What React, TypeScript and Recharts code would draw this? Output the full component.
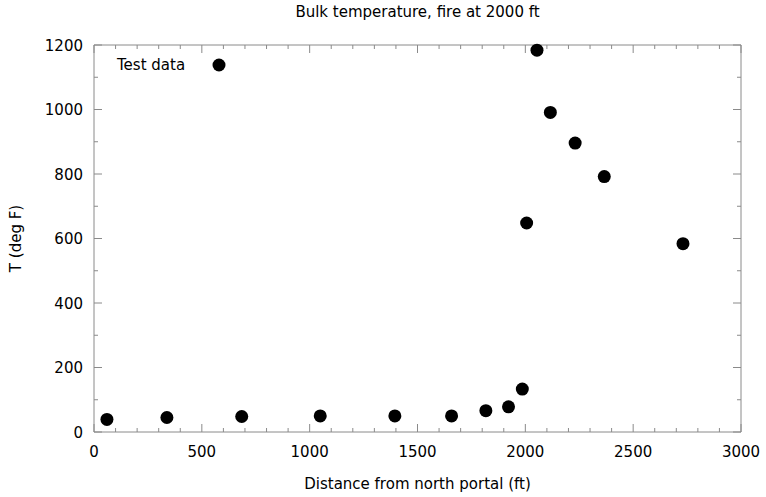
import React from 'react';
import { ScatterChart, Scatter, XAxis, YAxis } from 'recharts';

const distanceFt = [60, 338, 685, 1049, 1395, 1658, 1817, 1922, 1986, 2006, 2054, 2116, 2231, 2366, 2731];
const tempDegF = [39, 45, 48, 50, 50, 50, 66, 78, 133, 648, 1184, 991, 896, 792, 584];

const xMajorTicks = [0, 500, 1000, 1500, 2000, 2500, 3000];
const yMajorTicks = [0, 200, 400, 600, 800, 1000, 1200];
const xMinorStep = 100;
const yMinorStep = 100;

const withMinors = (majors: number[], step: number) => {
  const out: number[] = [];
  for (let i = 0; i < majors.length - 1; i++) {
    for (let v = majors[i]; v < majors[i + 1]; v += step) out.push(v);
  }
  out.push(majors[majors.length - 1]);
  return out;
};

const xTicks = withMinors(xMajorTicks, xMinorStep);
const yTicks = withMinors(yMajorTicks, yMinorStep);

const data = distanceFt.map((d, i) => ({ x: d, y: tempDegF[i] }));

const FONT = '"DejaVu Sans", sans-serif';
const FS = 15;
const AXIS = '#8a8a8a';
const MAJOR = 8;
const MINOR = 4;

const isMajor = (v: number, list: number[]) => list.includes(v);

const BottomTick = (props: any) => {
  const { x, y, payload } = props;
  const major = isMajor(payload.value, xMajorTicks);
  return (
    <g>
      <line x1={x} x2={x} y1={y} y2={y - (major ? MAJOR : MINOR)} stroke={AXIS} />
      {major && (
        <text x={x} y={y + 25} textAnchor="middle" fontSize={FS} fontFamily={FONT} fill="#000">
          {payload.value}
        </text>
      )}
    </g>
  );
};

const TopTick = (props: any) => {
  const { x, y, payload } = props;
  const major = isMajor(payload.value, xMajorTicks);
  return <line x1={x} x2={x} y1={y} y2={y + (major ? MAJOR : MINOR)} stroke={AXIS} />;
};

const LeftTick = (props: any) => {
  const { x, y, payload } = props;
  const major = isMajor(payload.value, yMajorTicks);
  return (
    <g>
      <line x1={x} x2={x + (major ? MAJOR : MINOR)} y1={y} y2={y} stroke={AXIS} />
      {major && (
        <text x={x - 11} y={y + 5.5} textAnchor="end" fontSize={FS} fontFamily={FONT} fill="#000">
          {payload.value}
        </text>
      )}
    </g>
  );
};

const RightTick = (props: any) => {
  const { x, y, payload } = props;
  const major = isMajor(payload.value, yMajorTicks);
  return <line x1={x} x2={x - (major ? MAJOR : MINOR)} y1={y} y2={y} stroke={AXIS} />;
};

const Dot = (props: any) => <circle cx={props.cx} cy={props.cy} r={6.5} fill="#000" />;
const NoDot = () => <g />;

export default function App() {
  return (
    <div style={{ position: 'absolute', left: 0, top: 0, width: 766, height: 497, background: '#fff' }}>
      <div
        style={{
          position: 'absolute',
          left: 94,
          width: 647,
          top: 3,
          textAlign: 'center',
          fontFamily: FONT,
          fontSize: FS,
          color: '#000',
        }}
      >
        Bulk temperature, fire at 2000 ft
      </div>
      <div
        style={{
          position: 'absolute',
          left: 117,
          top: 55,
          display: 'flex',
          alignItems: 'center',
          fontFamily: FONT,
          fontSize: FS,
          color: '#000',
          zIndex: 2,
        }}
      >
        <span>Test data</span>
        <svg width={20} height={20} style={{ marginLeft: 24 }}>
          <circle cx={10} cy={10} r={6.5} fill="#000" />
        </svg>
      </div>
      <ScatterChart width={766} height={497} margin={{ top: 44, right: 24, bottom: 0, left: 0 }}>
        <XAxis
          type="number"
          dataKey="x"
          domain={[0, 3000]}
          ticks={xTicks}
          interval={0}
          tickSize={0}
          tickMargin={0}
          tickLine={false}
          tick={<BottomTick />}
          height={65}
          stroke={AXIS}
          label={{
            value: 'Distance from north portal (ft)',
            position: 'insideBottom',
            offset: 8,
            fill: '#000',
            fontSize: FS,
            fontFamily: FONT,
          }}
        />
        <XAxis
          xAxisId="top"
          dataKey="x"
          orientation="top"
          type="number"
          domain={[0, 3000]}
          ticks={xTicks}
          interval={0}
          tickSize={0}
          tickMargin={0}
          tickLine={false}
          tick={<TopTick />}
          height={1}
          stroke={AXIS}
        />
        <YAxis
          type="number"
          dataKey="y"
          domain={[0, 1200]}
          ticks={yTicks}
          interval={0}
          tickSize={0}
          tickMargin={0}
          tickLine={false}
          tick={<LeftTick />}
          width={94}
          stroke={AXIS}
          label={{
            value: 'T (deg F)',
            angle: -90,
            position: 'insideLeft',
            offset: 16,
            fill: '#000',
            fontSize: FS,
            fontFamily: FONT,
            style: { textAnchor: 'middle' },
          }}
        />
        <YAxis
          yAxisId="right"
          dataKey="y"
          orientation="right"
          type="number"
          domain={[0, 1200]}
          ticks={yTicks}
          interval={0}
          tickSize={0}
          tickMargin={0}
          tickLine={false}
          tick={<RightTick />}
          width={1}
          stroke={AXIS}
        />
        <Scatter data={data} xAxisId="top" yAxisId="right" shape={<NoDot />} isAnimationActive={false} />
        <Scatter data={data} shape={<Dot />} isAnimationActive={false} />
      </ScatterChart>
    </div>
  );
}
